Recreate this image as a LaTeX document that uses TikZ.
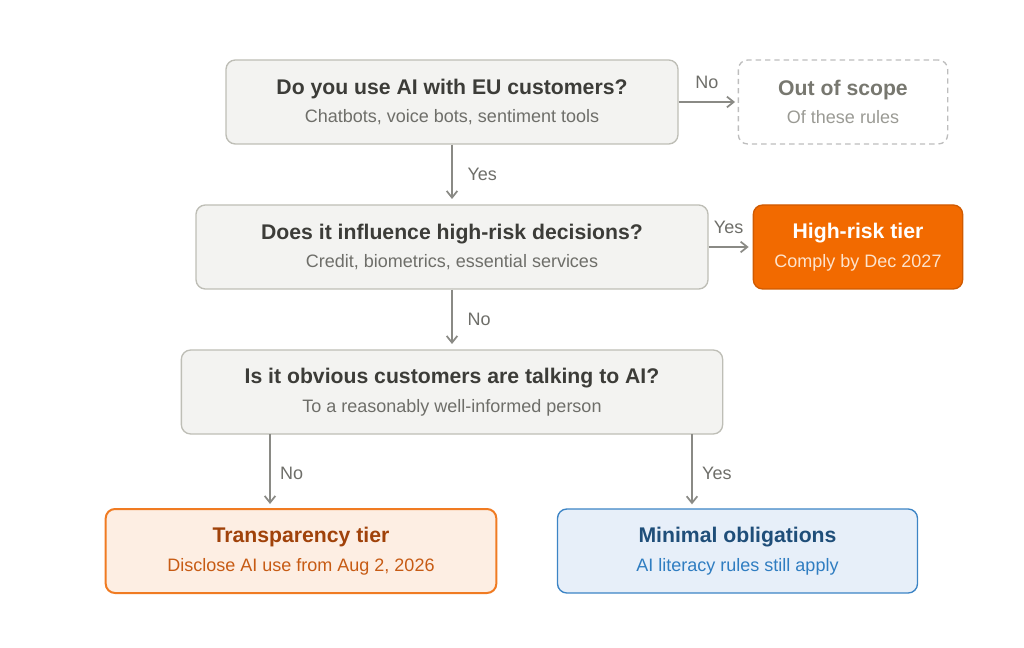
\documentclass[tikz,border=0pt]{standalone}
\usepackage{fontspec}
\setmainfont{Liberation Sans}
\usetikzlibrary{arrows.meta}
\definecolor{qfill}{HTML}{F3F3F1}
\definecolor{qline}{HTML}{BEBEB6}
\definecolor{qtitle}{HTML}{3C3C38}
\definecolor{qsub}{HTML}{6E6E69}
\definecolor{arrgray}{HTML}{8A8A85}
\definecolor{oostitle}{HTML}{77776F}
\definecolor{oossub}{HTML}{9A9A94}
\definecolor{oosline}{HTML}{BDBDBD}
\definecolor{hrfill}{HTML}{F26A00}
\definecolor{hrline}{HTML}{D05A00}
\definecolor{hrsub}{HTML}{FDE3CC}
\definecolor{trfill}{HTML}{FDEEE3}
\definecolor{trline}{HTML}{F07B22}
\definecolor{trtitle}{HTML}{A0420A}
\definecolor{trsub}{HTML}{C75B14}
\definecolor{mnfill}{HTML}{E7EFF9}
\definecolor{mnline}{HTML}{3C84C5}
\definecolor{mntitle}{HTML}{1F4E79}
\definecolor{mnsub}{HTML}{2F7DC1}
\newcommand{\twoline}[4]{%
  {\fontsize{15.9}{18}\selectfont\bfseries\color{#1}#2}\\[7.5pt]%
  {\fontsize{13.5}{15}\selectfont\color{#3}#4}}
\begin{document}
\begin{tikzpicture}[
  x=0.75pt, y=-0.75pt,
  box/.style={rounded corners=7pt, align=center, inner sep=0pt, line width=1pt,
              minimum height=63pt},
  qbox/.style={box, draw=qline, fill=qfill},
  arr/.style={-{Straight Barb[length=5pt,width=8pt]}, line width=1.3pt, arrgray},
  lab/.style={font=\fontsize{13.5}{15}\selectfont, text=qsub, inner sep=1pt}
]
  \useasboundingbox (0,0) rectangle (1024,648);
  %% --- Questions ---
  \node[qbox, minimum width=339pt] (q1) at (452,102)
    {\twoline{qtitle}{Do you use AI with EU customers?}{qsub}{Chatbots, voice bots, sentiment tools}};
  \node[qbox, minimum width=384pt] (q2) at (452,247)
    {\twoline{qtitle}{Does it influence high-risk decisions?}{qsub}{Credit, biometrics, essential services}};
  \node[qbox, minimum width=406pt] (q3) at (452,392)
    {\twoline{qtitle}{Is it obvious customers are talking to AI?}{qsub}{To a reasonably well-informed person}};
  %% --- Outcomes ---
  \node[box, draw=oosline, dashed, dash pattern=on 4pt off 3pt, minimum width=157pt] (oos) at (843,102)
    {\twoline{oostitle}{Out of scope}{oossub}{Of these rules}};
  \node[box, draw=hrline, fill=hrfill, minimum width=157pt] (hr) at (858,247)
    {\twoline{white}{High-risk tier}{hrsub}{Comply by Dec 2027}};
  \node[box, draw=trline, fill=trfill, line width=1.5pt, minimum width=293pt] (tr) at (301,551)
    {\twoline{trtitle}{Transparency tier}{trsub}{Disclose AI use from Aug 2, 2026}};
  \node[box, draw=mnline, fill=mnfill, minimum width=270pt] (mn) at (737.5,551)
    {\twoline{mntitle}{Minimal obligations}{mnsub}{AI literacy rules still apply}};
  %% --- Connectors ---
  \draw[arr] (q1.south) -- node[lab, right=10pt, yshift=-2pt] {Yes} ([yshift=4pt]q2.north);
  \draw[arr] (q1.east) -- node[lab, above=8pt] {No} ([xshift=-2pt]oos.west);
  \draw[arr] (q2.east) -- node[lab, above=8pt] {Yes} ([xshift=-3pt]hr.west);
  \draw[arr] (q2.south) -- node[lab, right=10pt, yshift=-2pt] {No} ([yshift=4pt]q3.north);
  \coordinate (q3l) at (270,434);
  \coordinate (q3r) at (692,434);
  \draw[arr] (q3l) -- node[lab, right=6pt, yshift=-3pt] {No} ([yshift=3pt]q3l |- tr.north);
  \draw[arr] (q3r) -- node[lab, right=6pt, yshift=-3pt] {Yes} ([yshift=3pt]q3r |- mn.north);
\end{tikzpicture}
\end{document}
